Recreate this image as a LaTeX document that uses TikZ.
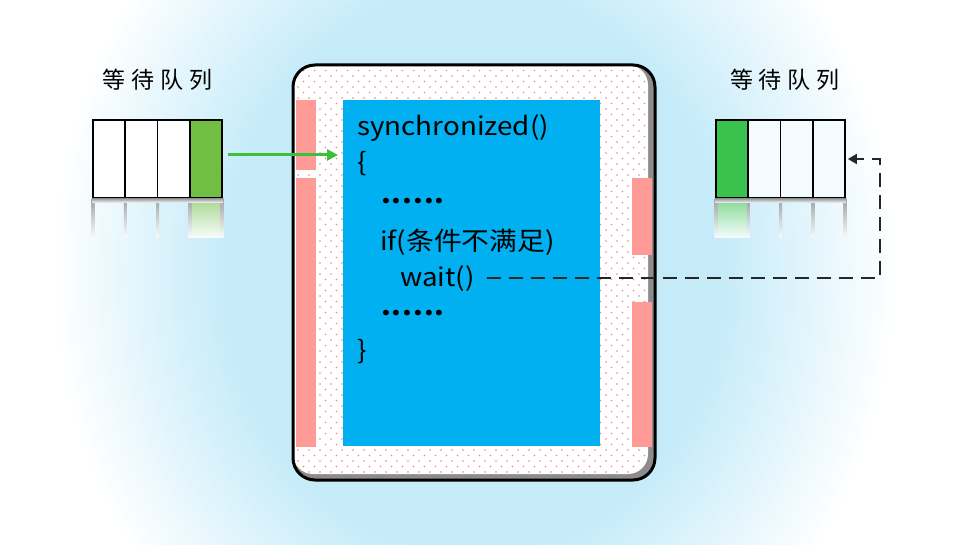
\documentclass[tikz,border=0pt]{standalone}
\usepackage{fontspec}
\usepackage{graphicx}
\setmainfont{Noto Sans CJK SC}
\usetikzlibrary{arrows.meta,calc}
\definecolor{glow}{RGB}{197,235,249}
\definecolor{pinkbar}{RGB}{255,155,150}
\definecolor{codeblue}{RGB}{0,176,240}
\definecolor{dotred}{RGB}{240,130,130}
\definecolor{lgreen}{RGB}{112,190,68}
\definecolor{rgreen}{RGB}{58,194,78}
\definecolor{arrowgreen}{RGB}{60,192,60}
\definecolor{cellwhite}{RGB}{244,251,254}
\definecolor{lbg}{RGB}{250,253,254}
\definecolor{rbg}{RGB}{246,252,254}
\pgfdeclareradialshading{bgglow}{\pgfpoint{0bp}{0bp}}{color(0bp)=(glow); color(14bp)=(glow); color(24bp)=(white); color(50bp)=(white)}
\tikzset{
  queue/.style={draw=black, line width=1.8pt, minimum width=129pt, minimum height=78pt, inner sep=0pt},
  divider/.style={draw=black, line width=1.8pt},
  pink/.style={fill=pinkbar},
  codetext/.style={anchor=base west, inner sep=0pt, font=\fontsize{25.5}{30}\selectfont},
  qlabel/.style={font=\fontsize{23}{28}\selectfont, inner sep=0pt},
  garrow/.style={draw=arrowgreen, line width=3pt, -{Triangle[length=11pt,width=11pt]}},
  dasharrow/.style={draw=black!85, line width=2pt, dash pattern=on 14pt off 8pt, -{Triangle[length=9pt,width=10pt]}}
}
\newcommand{\dd}{.\kern0.9pt}
\newcommand{\wide}[1]{\scalebox{1.09}[1]{#1}}
\begin{document}
\begin{tikzpicture}[x=1pt,y=1pt]
\useasboundingbox (0,0) rectangle (974,544);
% background glow
\fill[white] (0,0) rectangle (974,544);
\begin{scope}
\clip (0,0) rectangle (974,544);
\shade[shading=bgglow] (474,272) ellipse [x radius=440, y radius=500];
\end{scope}
% main box
\fill[black!45, rounded corners=22pt] (293,64) rectangle (655,479);
\fill[white, rounded corners=20pt] (293,70) rectangle (648,479);
\begin{scope}
\clip[rounded corners=20pt] (293,70) rectangle (648,479);
\foreach \i in {0,...,33}{
  \foreach \j in {0,...,38}{
    \fill[dotred] (298+\i*11, 72+\j*11) circle (0.9);
    \fill[dotred] (303.5+\i*11, 77.5+\j*11) circle (0.9);
  }
}
\end{scope}
% pink bars
\fill[pink] (296,374) rectangle (316,444);
\fill[pink] (296,97) rectangle (316,366);
\fill[pink] (632,289) rectangle (652,366);
\fill[pink] (632,97) rectangle (652,242);
% code block
\node[fill=codeblue, minimum width=257pt, minimum height=346pt, inner sep=0pt, anchor=south west] (blue) at (343,98) {};
\draw[line width=3pt, rounded corners=22pt] (293,64) rectangle (655,479);
% code text
\node[codetext] (sync) at (357,408) {\wide{synchronized()}};
\node[codetext] (open) at (357,372) {\wide{\{}};
\node[codetext] (dots1) at (381,340) {\wide{\bfseries\dd\dd\dd\dd\dd.}};
\node[codetext] (ifc) at (380,293) {\wide{if(条件不满足)}};
\node[codetext] (wait) at (400,257) {\wide{wait()}};
\node[codetext] (dots2) at (381,229) {\wide{\bfseries\dd\dd\dd\dd\dd.}};
\node[codetext] (close) at (357,185) {\wide{\}}};
% left queue
\fill[white] (93,346) rectangle (189.75,424);
\fill[lgreen] (189.75,346) rectangle (222,424);
\node[queue] (lq) at (157.5,385) {};
\draw[divider] (125.25,346) -- (125.25,424) (157.5,346) -- (157.5,424) (189.75,346) -- (189.75,424);
\shade[top color=lgreen!60!lbg, bottom color=lbg] (189.75,306) rectangle (222,345);
\foreach \x in {93,125.25,157.5,189.75,222}{
  \shade[top color=black!35!lbg, bottom color=lbg] (\x-1.5,306) rectangle (\x+1.5,345);
}
\shade[top color=black!35!lbg, bottom color=lbg] (92,341) rectangle (223,345);
\node[qlabel] (llabel) at (157.5,464) {等\hspace{6pt}待\hspace{6pt}队\hspace{6pt}列};
% right queue
\fill[cellwhite] (748.25,346) rectangle (845,424);
\fill[rgreen] (716,346) rectangle (748.25,424);
\node[queue] (rq) at (780.5,385) {};
\draw[divider] (748.25,346) -- (748.25,424) (780.5,346) -- (780.5,424) (812.75,346) -- (812.75,424);
\shade[top color=rgreen!60!rbg, bottom color=rbg] (716,306) rectangle (748.25,345);
\foreach \x in {716,748.25,780.5,812.75,845}{
  \shade[top color=black!35!rbg, bottom color=rbg] (\x-1.5,306) rectangle (\x+1.5,345);
}
\shade[top color=black!35!rbg, bottom color=rbg] (715,341) rectangle (846,345);
\node[qlabel] (rlabel) at (785,464) {等\hspace{6pt}待\hspace{6pt}队\hspace{6pt}列};
% green arrow
\draw[garrow] ([xshift=5pt,yshift=4pt]lq.east) -- ([xshift=-5pt,yshift=4pt]lq.east -| blue.west);
% dashed arrow
\coordinate (turn) at (880,266);
\draw[dasharrow] ([xshift=12pt]wait.east |- turn) -- (turn) |- ([xshift=2pt]rq.east);
\end{tikzpicture}
\end{document}
